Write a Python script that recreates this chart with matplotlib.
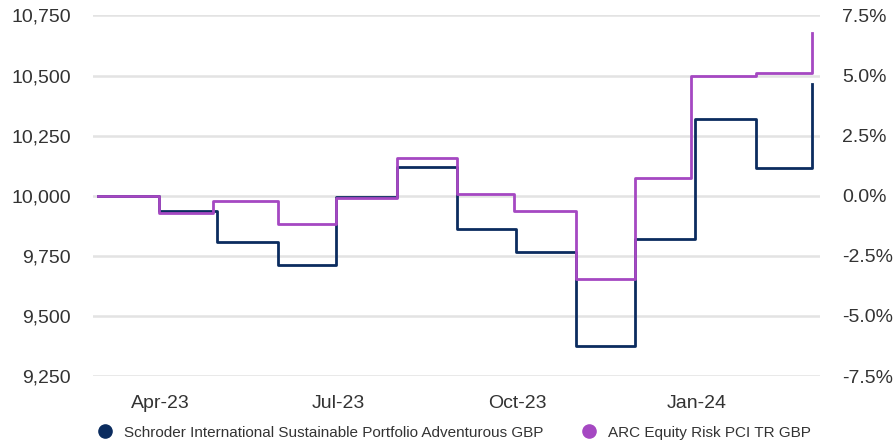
import matplotlib
matplotlib.use("Agg")
import matplotlib.pyplot as plt
import matplotlib.ticker as mticker
import matplotlib.dates as mdates
from matplotlib.lines import Line2D
import pandas as pd

plt.rcParams['font.family'] = ['Liberation Sans', 'DejaVu Sans']

# monthly values (growth of 10,000)
fund_dates = ['2023-02-28', '2023-03-31', '2023-04-30', '2023-05-31', '2023-06-30',
              '2023-07-31', '2023-08-31', '2023-09-30', '2023-10-31', '2023-11-30',
              '2023-12-31', '2024-01-31', '2024-02-29']
fund_values = [10000, 9936, 9808, 9712, 9996, 10118, 9862, 9768, 9376, 9821,
               10318, 10115, 10463]

index_dates = ['2023-02-28', '2023-03-31', '2023-04-28', '2023-05-31', '2023-06-30',
               '2023-07-31', '2023-08-31', '2023-09-29', '2023-10-31', '2023-11-30',
               '2023-12-29', '2024-01-31', '2024-02-29']
index_values = [10000, 9927, 9977, 9883, 9989, 10157, 10007, 9935, 9652, 10072,
                10497, 10510, 10678]

fund_name = 'Schroder International Sustainable Portfolio Adventurous GBP'
index_name = 'ARC Equity Risk PCI TR GBP'

x_ticks = ['2023-04-01', '2023-07-01', '2023-10-01', '2024-01-01']
y_ticks = [9250, 9500, 9750, 10000, 10250, 10500, 10750]
pct_ticks = [-7.5, -5.0, -2.5, 0.0, 2.5, 5.0, 7.5]

navy = '#0b2c5f'
purple = '#a548c2'
text_col = '#333333'

fig = plt.figure(figsize=(8.95, 4.44), dpi=100)
ax = fig.add_axes([93 / 895, 1 - 376 / 444, 727 / 895, 360.5 / 444])

ax.plot(pd.to_datetime(fund_dates), fund_values, drawstyle='steps-post',
        color=navy, lw=2.0, zorder=3)
ax.plot(pd.to_datetime(index_dates), index_values, drawstyle='steps-post',
        color=purple, lw=2.0, zorder=4)

ax.set_ylim(9250, 10750)
ax.set_yticks(y_ticks)
ax.yaxis.set_major_formatter(mticker.FuncFormatter(lambda v, p: f'{v:,.0f}'))
ax.set_xlim(pd.Timestamp('2023-02-25 10:00'), pd.Timestamp('2024-03-04'))
ax.set_xticks(pd.to_datetime(x_ticks))
ax.xaxis.set_major_formatter(mdates.DateFormatter('%b-%y'))

ax.grid(axis='y', color='#e3e3e3', lw=1.8, zorder=0)
ax.set_axisbelow(True)
for s in ax.spines.values():
    s.set_visible(False)
ax.tick_params(axis='both', length=0, labelsize=14, colors=text_col)
ax.tick_params(axis='y', pad=16)
ax.tick_params(axis='x', pad=14)

ax2 = ax.twinx()
ax2.set_ylim(-7.5, 7.5)
ax2.set_yticks(pct_ticks)
ax2.yaxis.set_major_formatter(mticker.FuncFormatter(lambda v, p: f'{v:.1f}%'))
for s in ax2.spines.values():
    s.set_visible(False)
ax2.tick_params(axis='y', length=0, labelsize=14, colors=text_col, pad=16)

handles = [
    Line2D([], [], ls='none', marker='o', ms=9.5, color=navy),
    Line2D([], [], ls='none', marker='o', ms=9.5, color=purple),
]
fig.legend(handles, [fund_name, index_name], loc='center left',
           bbox_to_anchor=(97.5 / 895, 1 - 432.5 / 444), ncol=2, frameon=False,
           fontsize=11, handlelength=1.0, handletextpad=0.75, columnspacing=2.45,
           borderpad=0, borderaxespad=0, labelcolor=text_col)

fig.savefig('out.png', dpi=100)
